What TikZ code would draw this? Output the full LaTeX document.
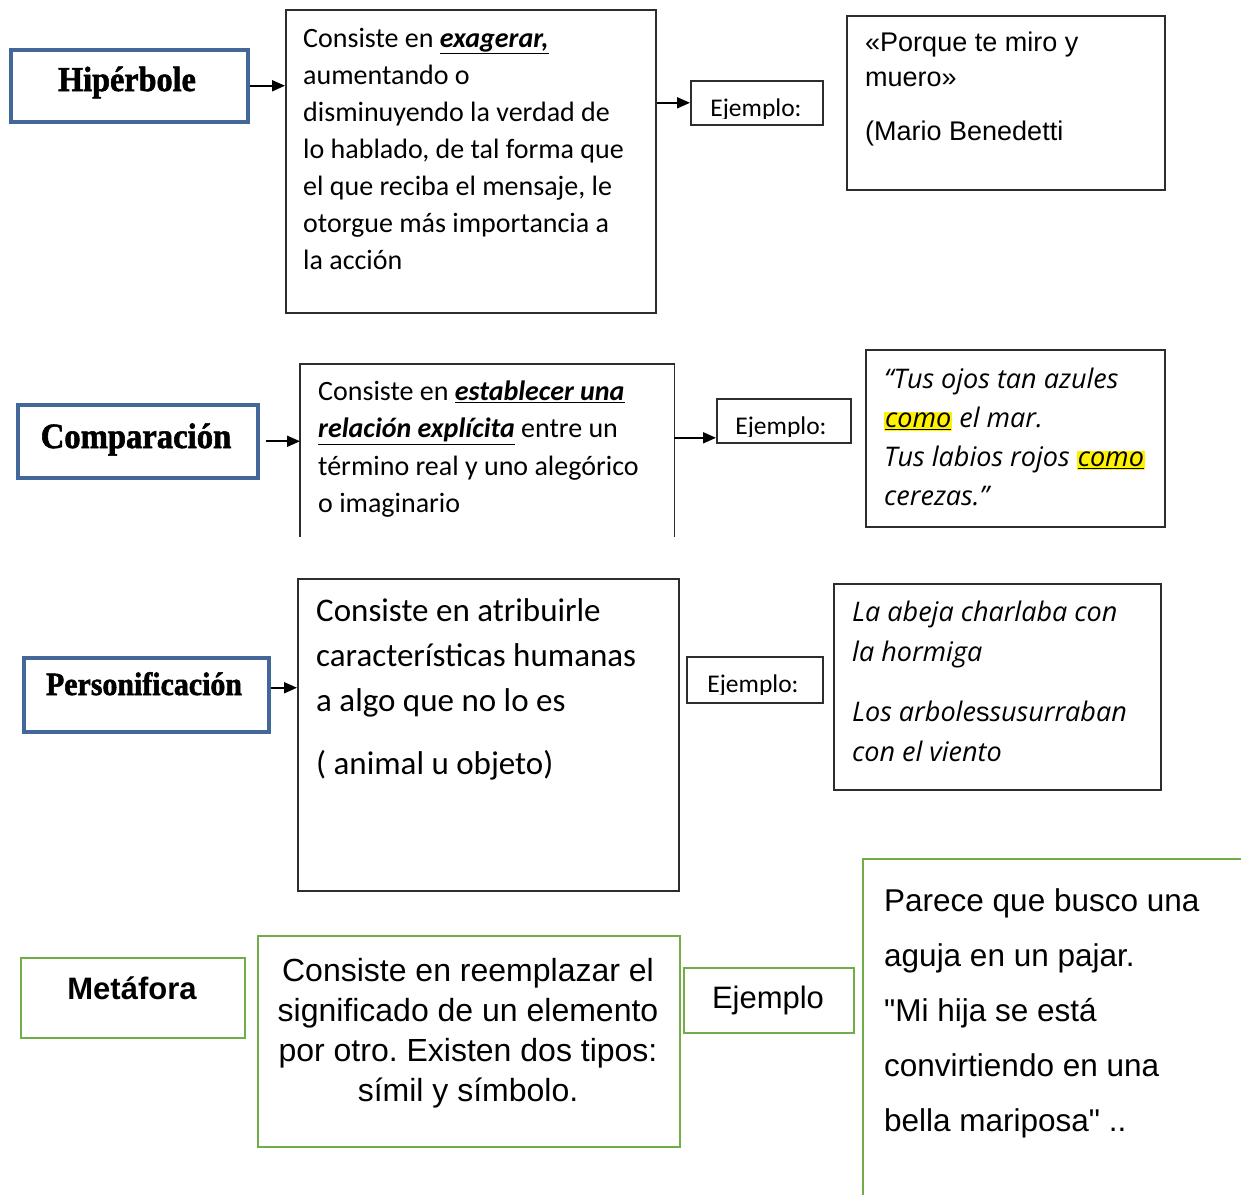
\documentclass[tikz,border=0pt]{standalone}
\usepackage{fontspec}
\setmainfont{Carlito}
\newfontfamily\arialf{Liberation Sans}
\newfontfamily\titlef[FakeBold=1.6,FakeStretch=0.92]{Liberation Serif Bold}
\newfontfamily\comicf{Open Sans}
\usetikzlibrary{arrows.meta}
\definecolor{bluebd}{RGB}{68,103,154}
\definecolor{greenbd}{RGB}{112,173,71}
\definecolor{graybd}{RGB}{45,45,45}
\newcommand{\fsz}[2]{\fontsize{#1}{#2}\selectfont}
\newcommand{\hlt}[1]{{\setlength{\fboxsep}{1pt}\colorbox{yellow}{#1}}}
\newcommand{\ubi}[1]{\underline{\textbf{\textit{#1}}}}
\frenchspacing
\begin{document}
\begin{tikzpicture}[x=1pt,y=-1pt,
  bluebox/.style={draw=bluebd, line width=3.5pt, inner sep=0pt, anchor=north west},
  graybox/.style={draw=graybd, line width=1.6pt, inner sep=0pt, anchor=north west},
  openbox/.style={inner sep=0pt, anchor=north west},
  greenbox/.style={draw=greenbd, line width=2.4pt, inner sep=0pt, anchor=north west},
  txt/.style={inner sep=0pt, anchor=north west, align=left},
  title/.style={inner sep=0pt, anchor=base},
  arr/.style={-{Triangle[length=13pt,width=11pt]}, line width=1.8pt, black},
]
\fill[white] (0,0) rectangle (1241,1194);
\useasboundingbox (0,0) rectangle (1241,1194);

% ---------- Hiperbole row ----------
\node[bluebox, minimum width=237pt, minimum height=72pt] (hip) at (9,48) {};
\node[title, font=\titlef\fsz{35}{38}] (hipT) at (127,91) {Hipérbole};
\node[graybox, minimum width=370pt, minimum height=303pt] (d1) at (285,9) {};
\node[txt, font=\fsz{28}{37}] (d1T) at (303,21) {\strut Consiste en \ubi{exagerar,}\\
aumentando o\\
disminuyendo la verdad de\\
lo hablado, de tal forma que\\
el que reciba el mensaje, le\\
otorgue más importancia a\\
la acción};
\node[graybox, minimum width=132pt, minimum height=44pt] (e1) at (690,80) {};
\begin{scope}
\clip (690,80) rectangle (822,118);
\node[title, font=\fsz{25.5}{30}] (e1T) at (756,116) {Ejemplo:};
\end{scope}
\node[graybox, minimum width=318pt, minimum height=174pt] (x1) at (846,15) {};
\node[txt, font=\arialf\fsz{27}{35}] (x1T) at (865,27) {\strut «Porque te miro y\\
muero»\\[19pt]
(Mario Benedetti};

\draw[arr] (hip.east) -- (hip.east -| d1.west);
\draw[arr] (d1.east |- e1.west) -- (e1.west);

% ---------- Comparacion row ----------
\node[bluebox, minimum width=240pt, minimum height=73pt] (comp) at (16,403) {};
\node[title, font=\titlef\fsz{35.5}{38}] (compT) at (136,448) {Comparación};
\node[openbox, minimum width=374pt, minimum height=173pt] (d2) at (300,364) {};
\draw[graybd, line width=1.6pt] (d2.south west) -- (d2.north west) -- (d2.north east) -- (d2.south east);
\node[txt, font=\fsz{28}{37.5}] (d2T) at (318,374) {\strut Consiste en \ubi{establecer una}\\
\ubi{relación explícita} entre un\\
término real y uno alegórico\\
o imaginario};
\node[graybox, minimum width=134pt, minimum height=44pt] (e2) at (716,398) {};
\begin{scope}
\clip (716,398) rectangle (850,436);
\node[title, font=\fsz{25.5}{30}] (e2T) at (781,434) {Ejemplo:};
\end{scope}
\node[graybox, minimum width=299pt, minimum height=177pt] (x2) at (865,349) {};
\node[txt, font=\comicf\itshape\fsz{27}{39}] (x2T) at (884,361) {\strut “Tus ojos tan azules\\
\hlt{\underline{como}} el mar.\\
Tus labios rojos \hlt{\underline{como}}\\
cerezas.”};

\draw[arr, shorten <=6pt] (comp.east) -- (comp.east -| d2.west);
\draw[arr] ([yshift=-17pt]e2.west -| d2.east) -- ([yshift=-17pt]e2.west);

% ---------- Personificacion row ----------
\node[bluebox, minimum width=245pt, minimum height=74pt] (pers) at (22,656) {};
\node[title, font=\titlef\fsz{32.5}{36}] (persT) at (144,695) {Personificación};
\node[graybox, minimum width=381pt, minimum height=312pt] (d3) at (297,578) {};
\node[txt, font=\fsz{33}{45}] (d3T) at (316,590) {\strut Consiste en atribuirle\\
características humanas\\
a algo que no lo es\\[18pt]
( animal u objeto)};
\node[graybox, minimum width=136pt, minimum height=46pt] (e3) at (686,656) {};
\begin{scope}
\clip (686,656) rectangle (822,694);
\node[title, font=\fsz{25.5}{30}] (e3T) at (753,692) {Ejemplo:};
\end{scope}
\node[graybox, minimum width=327pt, minimum height=206pt] (x3) at (833,583) {};
\node[txt, font=\comicf\itshape\fsz{27}{40}] (x3T) at (852,593) {\strut La abeja charlaba con\\
la hormiga\\[20pt]
Los arbole{\upshape\arialf\fsz{27}{40}s}susurraban\\
con el viento};

\draw[arr] ([yshift=7pt]pers.east) -- ([yshift=7pt]pers.east -| d3.west);

% ---------- Metafora row ----------
\node[greenbox, minimum width=224pt, minimum height=80pt] (met) at (20,957) {};
\node[title, font=\arialf\bfseries\fsz{31}{36}] (metT) at (132,999) {Metáfora};
\node[greenbox, minimum width=422pt, minimum height=211pt] (d4) at (257,935) {};
\node[inner sep=0pt, anchor=north, align=center, font=\arialf\fsz{32}{40}] (d4T) at (468,953) {\strut Consiste en reemplazar el\\
significado de un elemento\\
por otro. Existen dos tipos:\\
símil y símbolo.};
\node[greenbox, minimum width=170pt, minimum height=65pt] (e4) at (683,967) {};
\node[title, font=\arialf\fsz{31}{36}] (e4T) at (768,1008) {Ejemplo};
\node[greenbox, minimum width=420pt, minimum height=360pt] (x4) at (862,858) {};
\node[txt, font=\arialf\fsz{31.5}{55}] (x4T) at (884,873) {\strut Parece que busco una\\
aguja en un pajar.\\
\symbol{34}Mi hija se está\\
convirtiendo en una\\
bella mariposa\symbol{34} ..};
\end{tikzpicture}
\end{document}
